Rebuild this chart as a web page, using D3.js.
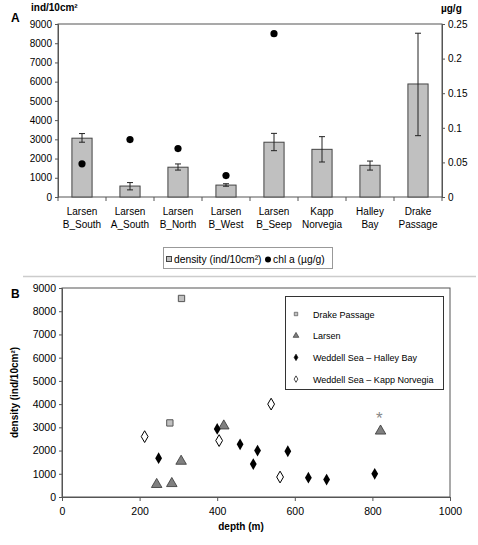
<!DOCTYPE html>
<html><head><meta charset="utf-8">
<script src="https://cdn.jsdelivr.net/npm/d3@7"></script>
<style>body{margin:0;background:#fff}svg{display:block;font-family:"Liberation Sans",Arial,sans-serif}</style>
</head><body><svg id="c" width="478" height="545"></svg>
<script>
// Panel A data
const sites = [["Larsen","B_South"],["Larsen","A_South"],["Larsen","B_North"],["Larsen","B_West"],["Larsen","B_Seep"],["Kapp","Norvegia"],["Halley","Bay"],["Drake","Passage"]];
const density = [3060, 570, 1550, 620, 2850, 2480, 1650, 5880];
const densityLow = [2850, 370, 1400, 560, 2410, 1820, 1400, 3190];
const densityHigh = [3300, 750, 1720, 690, 3310, 3140, 1870, 8520];
const chlA = [0.048, 0.083, 0.070, 0.031, 0.236, null, null, null];
const leftTicksA = [0,1000,2000,3000,4000,5000,6000,7000,8000,9000];
const rightTicksA = [0,0.05,0.1,0.15,0.2,0.25];

// Panel B data
const drake = [[308,8550],[278,3190]];
const larsen = [[244,540],[283,580],[307,1540],[417,3060],[821,2840]];
const halley = [[249,1670],[400,2930],[459,2270],[504,2000],[493,1420],[582,1970],[635,830],[682,750],[806,1000]];
const kapp = [[213,2600],[405,2430],[539,4000],[562,860]];
const asterisk = [[818,3450]];
const xTicksB = [0,200,400,600,800,1000];
const yTicksB = [0,1000,2000,3000,4000,5000,6000,7000,8000,9000];

const svg = d3.select("#c");
const FF = "Liberation Sans, Arial, sans-serif";

function styleAxis(a, fs){
  a.attr("font-family",FF);
  a.select(".domain").attr("stroke","#555");
  a.selectAll(".tick line").attr("stroke","#555");
  a.selectAll("text").attr("font-size",fs).attr("fill","#000");
}

// ---------- Panel A ----------
const A = {l:58, r:442, t:24, b:197};
const xA = d3.scaleBand().domain(d3.range(sites.length)).range([A.l, A.r]).paddingInner(0.58).paddingOuter(0.29);
const yA = d3.scaleLinear().domain([0,9000]).range([A.b, A.t]);
const yA2 = d3.scaleLinear().domain([0,0.25]).range([A.b, A.t]);

const gA = svg.append("g");
gA.append("rect").attr("x",A.l).attr("y",A.t).attr("width",A.r-A.l).attr("height",A.b-A.t)
  .attr("fill","none").attr("stroke","#555").attr("stroke-width",1);

const axL = gA.append("g").attr("transform",`translate(${A.l},0)`)
  .call(d3.axisLeft(yA).tickValues(leftTicksA).tickSize(3).tickPadding(3).tickFormat(d3.format("d")));
const axR = gA.append("g").attr("transform",`translate(${A.r},0)`)
  .call(d3.axisRight(yA2).tickValues(rightTicksA).tickSize(3).tickPadding(3).tickFormat(d=>String(+d.toFixed(2))));
styleAxis(axL,10); styleAxis(axR,10);

// category separator ticks
const sepX = d3.range(sites.length+1).map(i=>A.l + i*(A.r-A.l)/sites.length);
gA.selectAll("line.sep").data(sepX).join("line").attr("x1",d=>d).attr("x2",d=>d)
  .attr("y1",A.b).attr("y2",A.b+4).attr("stroke","#555");

gA.selectAll("rect.bar").data(density).join("rect")
  .attr("x",(d,i)=>xA(i)).attr("width",xA.bandwidth())
  .attr("y",d=>yA(d)).attr("height",d=>A.b-yA(d))
  .attr("fill","#c0c0c0").attr("stroke","#444").attr("stroke-width",1);

const eb = gA.selectAll("g.eb").data(density.map((d,i)=>i)).join("g");
eb.append("line").attr("x1",i=>xA(i)+xA.bandwidth()/2).attr("x2",i=>xA(i)+xA.bandwidth()/2)
  .attr("y1",i=>yA(densityLow[i])).attr("y2",i=>yA(densityHigh[i])).attr("stroke","#222");
[densityLow,densityHigh].forEach(arr=>{
  eb.append("line").attr("x1",i=>xA(i)+xA.bandwidth()/2-3).attr("x2",i=>xA(i)+xA.bandwidth()/2+3)
    .attr("y1",i=>yA(arr[i])).attr("y2",i=>yA(arr[i])).attr("stroke","#222");
});

gA.selectAll("circle.chl").data(chlA.map((v,i)=>({v,i})).filter(d=>d.v!==null)).join("circle")
  .attr("cx",d=>xA(d.i)+xA.bandwidth()/2).attr("cy",d=>yA2(d.v)).attr("r",3.6).attr("fill","#000");

// x labels
const xl = gA.selectAll("text.xl").data(sites).join("text")
  .attr("text-anchor","middle").attr("font-size",10);
xl.append("tspan").attr("x",(d,i)=>xA(i)+xA.bandwidth()/2).attr("y",215).text(d=>d[0]);
xl.append("tspan").attr("x",(d,i)=>xA(i)+xA.bandwidth()/2).attr("y",227.5).text(d=>d[1]);

gA.append("text").attr("x",31).attr("y",11).attr("font-size",10).attr("font-weight","bold").text("ind/10cm²");
gA.append("text").attr("x",441).attr("y",12).attr("font-size",10).attr("font-weight","bold").text("µg/g");
gA.append("text").attr("x",11).attr("y",22).attr("font-size",12).attr("font-weight","bold").text("A");

// legend A
gA.append("rect").attr("x",163.5).attr("y",247.5).attr("width",169).attr("height",21).attr("fill","#fff").attr("stroke","#999");
gA.append("rect").attr("x",166.5).attr("y",256.5).attr("width",5).attr("height",5).attr("fill","#c0c0c0").attr("stroke","#444");
gA.append("text").attr("x",174).attr("y",263).attr("font-size",10.3).text("density (ind/10cm²)");
gA.append("circle").attr("cx",268).attr("cy",259.5).attr("r",3).attr("fill","#000");
gA.append("text").attr("x",273).attr("y",263).attr("font-size",10.3).text("chl a (µg/g)");

// separator
svg.append("line").attr("x1",23).attr("x2",476).attr("y1",276.5).attr("y2",276.5).attr("stroke","#ccc").attr("stroke-width",1.5);

// ---------- Panel B ----------
const B = {l:62, r:450, t:288, b:497};
const xB = d3.scaleLinear().domain([0,1000]).range([B.l,B.r]);
const yB = d3.scaleLinear().domain([0,9000]).range([B.b,B.t]);
const gB = svg.append("g");
gB.append("rect").attr("x",B.l).attr("y",B.t).attr("width",B.r-B.l).attr("height",B.b-B.t)
  .attr("fill","none").attr("stroke","#555");
const axBx = gB.append("g").attr("transform",`translate(0,${B.b})`)
  .call(d3.axisBottom(xB).tickValues(xTicksB).tickSize(4).tickPadding(7).tickFormat(d3.format("d")));
const axBy = gB.append("g").attr("transform",`translate(${B.l},0)`)
  .call(d3.axisLeft(yB).tickValues(yTicksB).tickSize(3).tickPadding(3).tickFormat(d3.format("d")));
styleAxis(axBx,10.5); styleAxis(axBy,10.5);

gB.append("text").attr("x",11).attr("y",298).attr("font-size",12).attr("font-weight","bold").text("B");
gB.append("text").attr("x",241).attr("y",530).attr("text-anchor","middle").attr("font-size",10).attr("font-weight","bold").text("depth (m)");
gB.append("text").attr("transform",`translate(18,${(B.t+B.b)/2}) rotate(-90)`).attr("text-anchor","middle")
  .attr("font-size",10).attr("font-weight","bold").text("density (ind/10cm²)");

const sq = d3.symbol().type(d3.symbolSquare).size(40);
const tri = d3.symbol().type(d3.symbolTriangle).size(48);
const dia = d3.symbol().type(d3.symbolDiamond).size(40);

gB.selectAll("path.dr").data(drake).join("path").attr("d",sq)
  .attr("transform",d=>`translate(${xB(d[0])},${yB(d[1])})`).attr("fill","#c0c0c0").attr("stroke","#555");
gB.selectAll("path.la").data(larsen).join("path").attr("d",tri)
  .attr("transform",d=>`translate(${xB(d[0])},${yB(d[1])})`).attr("fill","#808080").attr("stroke","#333").attr("stroke-width",0.8);
gB.selectAll("path.ha").data(halley).join("path").attr("d",dia)
  .attr("transform",d=>`translate(${xB(d[0])},${yB(d[1])})`).attr("fill","#000");
gB.selectAll("path.ka").data(kapp).join("path").attr("d",dia)
  .attr("transform",d=>`translate(${xB(d[0])},${yB(d[1])})`).attr("fill","#fff").attr("stroke","#000").attr("stroke-width",1);
gB.selectAll("text.ast").data(asterisk).join("text").attr("x",d=>xB(d[0])).attr("y",d=>yB(d[1])+7)
  .attr("text-anchor","middle").attr("font-size",17).attr("fill","#888").text("*");

// legend B
const legB = [["Drake Passage","sq"],["Larsen","tri"],["Weddell Sea – Halley Bay","dh"],["Weddell Sea – Kapp Norvegia","dk"]];
gB.append("rect").attr("x",285.5).attr("y",296.5).attr("width",158).attr("height",93).attr("fill","#fff").attr("stroke","#333");
const lg = gB.selectAll("g.lg").data(legB).join("g").attr("transform",(d,i)=>`translate(296,${314+i*21.7})`);
lg.append("path").attr("d",d=>d3.symbol().type(d[1]==="sq"?d3.symbolSquare:d[1]==="tri"?d3.symbolTriangle:d3.symbolDiamond).size(d[1]==="tri"?14:12)())
  .attr("fill",d=>d[1]==="sq"?"#c0c0c0":d[1]==="tri"?"#808080":d[1]==="dh"?"#000":"#fff")
  .attr("stroke",d=>d[1]==="sq"?"#555":d[1]==="tri"?"#333":"#000").attr("stroke-width",0.7);
lg.append("text").attr("x",17).attr("y",3.5).attr("font-size",9).text(d=>d[0]);
</script></body></html>
